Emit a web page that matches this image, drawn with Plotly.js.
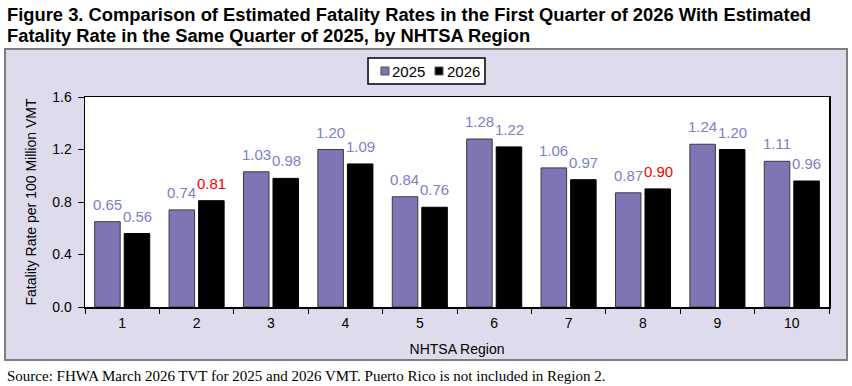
<!DOCTYPE html>
<html>
<head>
<meta charset="utf-8">
<script src="https://cdn.plot.ly/plotly-3.0.1.min.js"></script>
<style>
  html, body { margin: 0; padding: 0; background: #ffffff; }
  #chart { width: 852px; height: 386px; }
</style>
</head>
<body>
<div id="chart"></div>
<script>
// NHTSA regions and estimated fatality rates per 100 million VMT (Q1)
const regions = ['1', '2', '3', '4', '5', '6', '7', '8', '9', '10'];
const rates2025 = [0.65, 0.74, 1.03, 1.20, 0.84, 1.28, 1.06, 0.87, 1.24, 1.11];
const rates2026 = [0.56, 0.81, 0.98, 1.09, 0.76, 1.22, 0.97, 0.90, 1.20, 0.96];
const seriesNames = ['2025', '2026'];
const seriesColors = ['#7F74B4', '#000000'];
const titleLines = [
  'Figure 3. Comparison of Estimated Fatality Rates in the First Quarter of 2026 With Estimated',
  'Fatality Rate in the Same Quarter of 2025, by NHTSA Region'
];

const labelBlue = '#8080C4';
const labelRed = '#FF0000';
const sans = 'Arial, Liberation Sans, sans-serif';

const traces = [
  {
    type: 'bar', name: seriesNames[0], x: regions, y: rates2025,
    marker: { color: seriesColors[0], line: { color: '#3a3a3a', width: 1 } },
    hoverinfo: 'skip'
  },
  {
    type: 'bar', name: seriesNames[1], x: regions, y: rates2026,
    marker: { color: seriesColors[1], line: { color: '#000000', width: 1 } },
    hoverinfo: 'skip'
  }
];

// value labels above each bar (x given as category index); a 2026 rate above its 2025 rate is red
const annotations = [];
regions.forEach((r, i) => {
  annotations.push({
    x: i, y: rates2025[i], xref: 'x', yref: 'y', xshift: -15, yshift: 7,
    yanchor: 'bottom', showarrow: false, text: rates2025[i].toFixed(2),
    font: { family: sans, size: 15, color: labelBlue }
  });
  annotations.push({
    x: i, y: rates2026[i], xref: 'x', yref: 'y', xshift: 15, yshift: 7,
    yanchor: 'bottom', showarrow: false, text: rates2026[i].toFixed(2),
    font: { family: sans, size: 15,
            color: rates2026[i] > rates2025[i] ? labelRed : labelBlue }
  });
});

// two-line figure title
titleLines.forEach((line, k) => {
  annotations.push({
    xref: 'paper', yref: 'paper', x: -0.1075, y: k === 0 ? 1.3905 : 1.2905,
    xanchor: 'left', yanchor: 'middle', showarrow: false, align: 'left',
    text: '<b>' + line + '</b>',
    font: { family: sans, size: 18.35, color: '#000000' }
  });
});

annotations.push({
  xref: 'paper', yref: 'paper', x: -0.1075, y: -0.3286, xanchor: 'left', yanchor: 'middle',
  showarrow: false, align: 'left',
  text: 'Source: FHWA March 2026 TVT for 2025 and 2026 VMT. Puerto Rico is not included in Region 2.',
  font: { family: 'Liberation Serif, Times New Roman, serif', size: 15, color: '#000000' }
});

// compact boxed legend: small square swatch followed by the series name
const shapes = [
  {
    type: 'rect', xref: 'paper', yref: 'paper', layer: 'below',
    x0: -0.1075, x1: 1.0242, y0: -0.2524, y1: 1.2286,
    fillcolor: '#DEDCEC', line: { color: '#7f7f7f', width: 2 }
  },
  {
    type: 'rect', xref: 'paper', yref: 'paper', layer: 'below',
    x0: 0, x1: 1, y0: 0, y1: 1,
    fillcolor: '#ffffff', line: { width: 0 }
  },
  {
    type: 'rect', xref: 'paper', yref: 'paper', layer: 'above',
    x0: 0.3804, x1: 0.5376, y0: 1.0619, y1: 1.1857,
    fillcolor: '#ffffff', line: { color: '#000000', width: 1.5 }
  }
];
const legendX = [0.3978, 0.4704];
seriesNames.forEach((name, k) => {
  shapes.push({
    type: 'rect', xref: 'paper', yref: 'paper', layer: 'above',
    x0: legendX[k], x1: legendX[k] + 0.0108, y0: 1.1048, y1: 1.1429,
    fillcolor: seriesColors[k], line: { color: '#555555', width: 1 }
  });
  annotations.push({
    xref: 'paper', yref: 'paper', x: legendX[k] + 0.0128, y: 1.1238,
    xanchor: 'left', yanchor: 'middle', showarrow: false, text: name,
    font: { family: sans, size: 15, color: '#000000' }
  });
});

const layout = {
  width: 852, height: 386,
  margin: { l: 85, r: 23, t: 97, b: 79 },
  paper_bgcolor: '#ffffff',
  plot_bgcolor: '#ffffff',
  barmode: 'group',
  bargap: 0.206,
  bargroupgap: 0.136,
  showlegend: false,
  xaxis: {
    type: 'category', range: [-0.5, 9.5],
    showgrid: false, zeroline: false,
    showline: true, linecolor: '#000000', linewidth: 1.5, mirror: true,
    ticks: 'outside', tickson: 'boundaries', ticklen: 5, tickcolor: '#000000',
    ticklabelstandoff: 3,
    tickfont: { family: sans, size: 14, color: '#000000' },
    title: { text: 'NHTSA Region', standoff: 14,
             font: { family: sans, size: 14, color: '#000000' } }
  },
  yaxis: {
    range: [0, 1.6], dtick: 0.4, tickformat: '.1f',
    showgrid: false, zeroline: false,
    showline: true, linecolor: '#000000', linewidth: 1.5, mirror: true,
    ticks: 'outside', ticklen: 6, tickcolor: '#000000',
    ticklabelstandoff: 3,
    tickfont: { family: sans, size: 14, color: '#000000' },
    title: { text: 'Fatality Rate per 100 Million VMT', standoff: 12,
             font: { family: sans, size: 14, color: '#000000' } }
  },
  shapes: shapes,
  annotations: annotations
};

Plotly.newPlot('chart', traces, layout, { staticPlot: true, displayModeBar: false });
</script>
</body>
</html>
